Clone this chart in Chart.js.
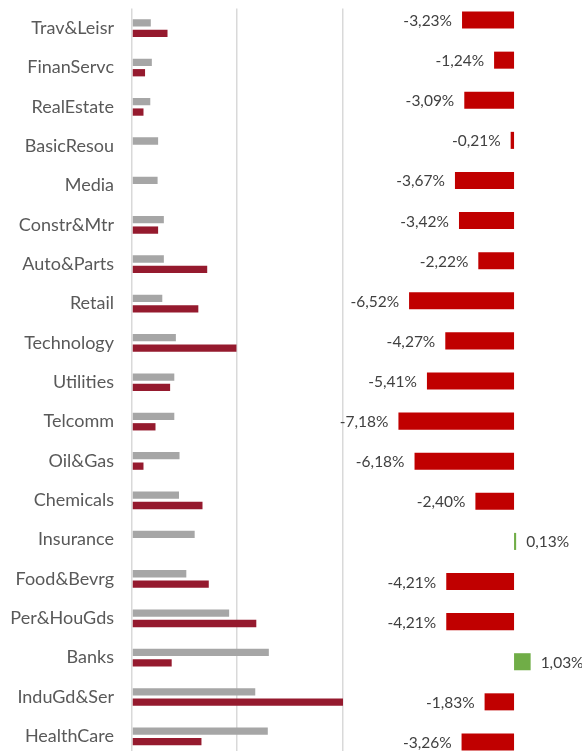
<!DOCTYPE html>
<html>
<head>
<meta charset="utf-8">
<script src="https://cdn.jsdelivr.net/npm/chart.js@4.4.1/dist/chart.umd.min.js"></script>
<style>
    html, body { margin: 0; padding: 0; background: #fff; overflow: hidden; }
    #wrap { position: relative; width: 582px; height: 751px; overflow: hidden; }
    #left-chart { position: absolute; left: 0; top: 0; }
    #right-chart { position: absolute; left: 330px; top: 0; }
</style>
</head>
<body>
<div id="wrap">
    <canvas id="left-chart" width="345" height="756"></canvas>
    <canvas id="right-chart" width="252" height="762"></canvas>
</div>
<script>
const categories = ['Trav&Leisr', 'FinanServc', 'RealEstate', 'BasicResou', 'Media', 'Constr&Mtr',
    'Auto&Parts', 'Retail', 'Technology', 'Utilities', 'Telcomm', 'Oil&Gas', 'Chemicals',
    'Insurance', 'Food&Bevrg', 'Per&HouGds', 'Banks', 'InduGd&Ser', 'HealthCare'];
const grayValues = [1.8, 1.9, 1.75, 2.5, 2.45, 3.05, 3.05, 2.9, 4.2, 4.05, 4.05, 4.55, 4.5, 6.0, 5.2, 9.3, 13.1, 11.8, 13.0];
const redValues = [3.4, 1.25, 1.1, null, null, 2.5, 7.2, 6.35, 10.0, 3.65, 2.25, 1.1, 6.75, null, 7.35, 11.9, 3.8, 20.2, 6.65];
const changes = [-3.23, -1.24, -3.09, -0.21, -3.67, -3.42, -2.22, -6.52, -4.27, -5.41, -7.18, -6.18, -2.40, 0.13, -4.21, -4.21, 1.03, -1.83, -3.26];

const FONT = 'Lato, "Open Sans", sans-serif';

function createLeftChart() {
    const ctx = document.getElementById('left-chart').getContext('2d');
    new Chart(ctx, {
        type: 'bar',
        data: {
            labels: categories,
            datasets: [
                {
                    data: grayValues,
                    backgroundColor: '#a6a6a6',
                    categoryPercentage: 0.53,
                    barPercentage: 0.7,
                },
                {
                    data: redValues,
                    backgroundColor: '#951a2e',
                    categoryPercentage: 0.53,
                    barPercentage: 0.7,
                    clip: false,
                }
            ]
        },
        options: {
            indexAxis: 'y',
            responsive: false,
            animation: false,
            layout: { padding: { top: 8.5, right: 2, bottom: 0, left: 0 } },
            plugins: {
                legend: { display: false },
                tooltip: { enabled: false },
            },
            scales: {
                x: {
                    min: 0,
                    max: 20.2,
                    ticks: { display: false, stepSize: 10 },
                    grid: { color: '#d9d9d9', lineWidth: 1.5, drawTicks: false },
                    border: { display: false },
                    afterFit: function (scale) {
                        scale.height = 0;
                        scale.paddingLeft = 0;
                        scale.paddingRight = 0;
                    }
                },
                y: {
                    grid: { display: false, drawTicks: false },
                    border: { display: false },
                    ticks: {
                        color: '#595959',
                        padding: 18,
                        font: { family: FONT, size: 18 },
                    },
                    afterFit: function (scale) {
                        scale.width = 132;
                        scale.paddingTop = 0;
                        scale.paddingBottom = 0;
                    }
                }
            }
        }
    });
}

const valueLabels = {
    id: 'valueLabels',
    afterDatasetsDraw(chart) {
        const c = chart.ctx;
        const meta = chart.getDatasetMeta(0);
        c.save();
        c.font = '15.5px ' + FONT;
        c.fillStyle = '#404040';
        c.textBaseline = 'middle';
        meta.data.forEach(function (bar, i) {
            const v = changes[i];
            const text = v.toFixed(2).replace('.', ',') + '%';
            if (v < 0) {
                c.textAlign = 'right';
                c.fillText(text, bar.x - 10, bar.y + 1);
            } else {
                c.textAlign = 'left';
                c.fillText(text, bar.x + 10, bar.y + 1);
            }
        });
        c.restore();
    }
};

function createRightChart() {
    const ctx = document.getElementById('right-chart').getContext('2d');
    new Chart(ctx, {
        type: 'bar',
        data: {
            labels: categories,
            datasets: [{
                data: changes,
                backgroundColor: changes.map(v => v < 0 ? '#c00000' : '#70ad47'),
                categoryPercentage: 1,
                barPercentage: 0.425,
            }]
        },
        options: {
            indexAxis: 'y',
            responsive: false,
            animation: false,
            layout: { padding: 0 },
            plugins: {
                legend: { display: false },
                tooltip: { enabled: false },
            },
            scales: {
                x: { display: false, min: -11.43, max: 4.22 },
                y: { display: false }
            }
        },
        plugins: [valueLabels]
    });
}

createLeftChart();
createRightChart();
</script>
</body>
</html>
